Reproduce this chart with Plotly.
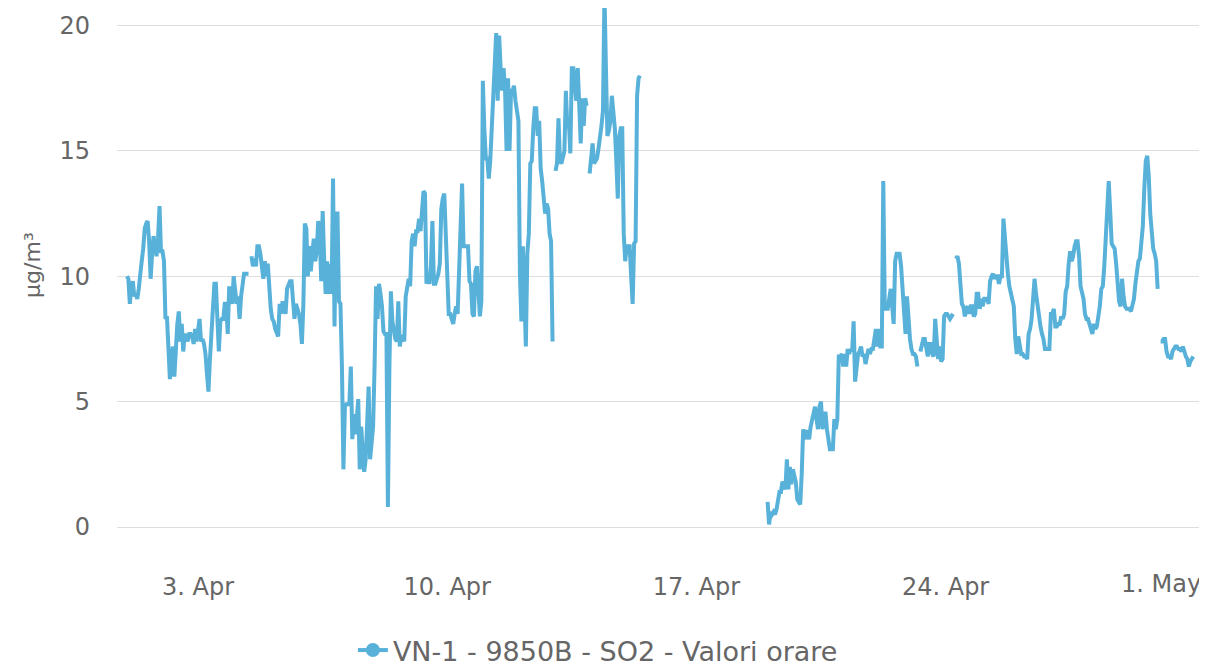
import pandas as pd
import plotly.graph_objects as go

# Hourly SO2 values (µg/m³), one list per day, 00:00 .. 23:00
apr01 = [10.0, 9.9, 8.9, 9.6, 9.8, 9.2, 9.3, 9.1, 9.5, 10.2, 10.6, 11.1, 11.9, 12.1, 12.2, 11.4, 9.9, 10.9, 11.6, 11.2, 10.8, 11.5, 12.8, 11.0]
apr02 = [11.0, 10.6, 8.3, 8.4, 6.7, 5.9, 6.7, 7.2, 6.0, 7.2, 8.1, 8.6, 7.4, 8.1, 7.0, 7.7, 7.6, 7.4, 7.7, 7.7, 7.6, 7.3, 7.9, 7.4]
apr03 = [7.8, 8.3, 7.4, 7.5, 7.3, 6.9, 6.1, 5.4, 6.7, 7.8, 8.6, 9.7, 9.7, 8.5, 7.0, 8.2, 8.3, 8.3, 8.9, 8.9, 7.7, 9.6, 9.2, 8.9]
apr04 = [10.0, 9.5, 8.9, 9.2, 8.3, 9.2, 9.8, 10.1, 10.1, 10.1, 10.1, None, 10.8, 10.4, 10.7, 10.4, 11.2, 11.2, 10.9, 10.4, 9.9, 10.6, 10.0, 10.5]
apr05 = [9.2, 8.7, 8.3, 8.2, 7.9, 7.7, 7.6, 8.9, 8.5, 9.0, 8.7, 8.5, 9.5, 9.7, 9.8, 9.8, 8.7, 8.3, 8.9, 8.7, 8.5, 8.1, 7.3, 8.9]
apr06 = [12.1, 11.9, 10.0, 11.2, 10.2, 10.9, 11.5, 10.6, 11.0, 12.2, 11.8, 9.8, 12.6, 10.7, 9.3, 10.6, 9.3, 10.5, 9.3, 13.9, 8.0, 12.5, 12.5, 9.0]
apr07 = [8.9, 6.4, 2.3, 4.8, 4.9, 4.9, 4.9, 6.4, 3.5, 4.5, 3.7, 4.3, 5.1, 2.3, 4.0, 3.0, 2.2, 2.7, 4.5, 5.6, 2.7, 3.2, 4.0, 6.4]
apr08 = [9.6, 8.3, 9.7, 9.3, 8.8, 7.8, 7.7, 7.7, 0.8, 6.4, 9.4, 8.2, 7.7, 7.5, 7.4, 9.0, 7.2, 7.6, 7.6, 7.4, 9.2, 9.7, 9.9, 9.6]
apr09 = [11.4, 11.7, 11.2, 11.8, 11.8, 12.3, 11.8, 12.6, 13.4, 13.3, 9.7, 9.9, 9.7, 10.4, 12.2, 9.7, 9.7, 9.9, 10.1, 10.5, 12.7, 13.1, 13.3, 11.7]
apr10 = [9.5, 8.5, 8.5, 8.3, 8.1, 8.5, 8.8, 8.5, 10.4, 12.5, 13.7, 11.2, 11.2, 11.2, 11.2, 9.8, 9.7, 8.5, 8.4, 10.2, 10.4, 9.5, 8.4, 9.0]
apr11 = [17.8, 15.9, 14.7, 14.7, 13.9, 14.6, 16.0, 17.5, 18.5, 19.7, 17.0, 19.6, 18.3, 17.4, 18.3, 17.4, 15.0, 17.9, 15.0, 17.4, 17.4, 17.6, 17.0, 16.6]
apr12 = [16.2, 10.1, 8.2, 11.2, 9.3, 7.2, 10.9, 11.7, 14.5, 14.6, 15.9, 16.7, 16.7, 15.6, 16.2, 14.3, 13.8, 13.0, 12.5, 12.9, 12.7, 11.7, 11.4, 7.4]
apr13 = [None, 14.2, 14.5, 16.3, 14.6, 14.5, 14.8, 15.0, 17.4, 15.9, 16.2, 14.9, 18.3, 18.3, 17.6, 17.0, 18.3, 17.0, 15.3, 17.1, 16.0, 17.1, 16.8, None]
apr14 = [14.1, 15.0, 15.3, 14.5, 14.6, 14.7, 15.1, 15.5, 16.0, 16.6, 21.3, 18.3, 15.6, 15.8, 16.2, 17.2, 16.5, 15.9, 14.6, 13.1, 15.6, 15.9, 15.9, 11.7]
apr15 = [10.6, 11.2, 11.2, 11.2, 10.0, 8.9, 11.3, 11.4, 17.2, 17.9, 18.0] + [None] * 13
apr16 = [None] * 24
apr17 = [None] * 24
apr18 = [None] * 24
apr19 = [1.0, 0.1, 0.6, 0.5, 0.6, 0.5, 0.7, 1.0, 1.4, 1.4, 1.8, 1.7, 1.5, 2.7, 1.5, 2.4, 1.7, 2.3, 2.0, 1.8, 1.1, 1.0, 0.9, 2.1]
apr20 = [3.9, 3.5, 3.8, 3.8, 3.5, 4.0, 4.3, 4.6, 4.8, 4.3, 3.9, 4.8, 5.0, 3.9, 4.4, 4.6, 3.9, 3.5, 3.1, 3.1, 3.1, 4.3, 3.9, 4.3]
apr21 = [6.8, 6.8, 6.9, 6.4, 6.9, 6.4, 7.1, 6.9, 7.1, 7.0, 8.2, 5.8, 6.5, 6.9, 7.0, 7.2, 6.8, 6.9, 6.5, 6.8, 7.1, 6.9, 7.1, 7.1]
apr22 = [7.7, 7.9, 7.2, 7.9, 7.2, 7.2, 13.8, 8.7, 8.7, 8.7, 9.1, 9.5, 8.8, 8.1, 10.6, 10.9, 10.9, 10.9, 10.4, 9.3, 8.5, 7.7, 9.2, 8.0]
apr23 = [7.5, 7.1, 6.9, 6.9, 6.8, 6.4, None, 7.0, 7.2, 7.5, 7.5, 7.0, 6.8, 7.3, 7.3, 6.9, 6.8, 8.3, 7.1, 6.7, 7.2, 6.6, 6.7, 8.4]
apr24 = [8.5, 8.5, 8.4, 8.3, 8.4, 8.5, None, 10.7, 10.8, 10.5, 9.6, 8.9, 8.8, 8.4, 8.7, 8.8, 8.5, 8.8, 8.8, 8.4, 8.5, 9.3, 9.3, 8.7]
apr25 = [9.1, 8.8, 9.1, 9.1, 9.1, 8.9, 9.8, 10.0, 10.1, 9.9, 10.0, 10.0, 9.7, 10.0, 10.0, 12.3, 11.4, 10.5, 10.1, 9.6, 9.3, 8.9, 8.8, 7.5]
apr26 = [6.9, 7.6, 7.2, 6.9, 6.9, 6.8, 6.8, 6.7, 7.7, 7.9, 8.3, 9.1, 9.9, 9.3, 8.8, 8.3, 8.0, 7.7, 7.5, 7.1, 7.1, 7.1, 7.1, 8.5]
apr27 = [8.5, 8.7, 8.0, 8.0, 8.1, 8.1, 8.4, 8.3, 8.5, 9.4, 9.6, 10.5, 11.0, 10.6, 10.8, 11.2, 11.4, 11.4, 10.8, 9.6, 9.3, 9.1, 8.5, 8.3]
apr28 = [8.3, 8.0, 7.9, 7.7, 8.1, 7.9, 8.0, 8.4, 8.8, 9.5, 9.6, 10.4, 11.4, 12.6, 13.8, 12.6, 11.3, 11.2, 11.1, 10.5, 9.8, 9.0, 8.8, 9.9]
apr29 = [9.2, 8.8, 8.7, 8.7, 8.7, 8.6, 8.8, 9.1, 9.7, 10.3, 10.6, 10.7, 11.2, 12.0, 13.5, 14.6, 14.8, 14.0, 12.5, 11.8, 11.1, 10.9, 10.6, 9.5]
apr30 = [None, 7.4, 7.4, 7.5, 7.5, 7.0, 6.8, 6.8, 6.7, 7.0, 7.1, 7.2, 7.2, 7.1, 7.1, 7.0, 7.2, 6.9, 6.8, 6.7, 6.4, 6.6, 6.7, 6.8]

days = [apr01, apr02, apr03, apr04, apr05, apr06, apr07, apr08, apr09, apr10,
        apr11, apr12, apr13, apr14, apr15, apr16, apr17, apr18, apr19, apr20,
        apr21, apr22, apr23, apr24, apr25, apr26, apr27, apr28, apr29, apr30]

series_name = "VN-1 - 9850B - SO2 - Valori orare"
y_title = "µg/m³"
x_tick_dates = ["2023-04-03", "2023-04-10", "2023-04-17", "2023-04-24"]
x_tick_text = ["3. Apr", "10. Apr", "17. Apr", "24. Apr"]
last_tick_text = "1. May"
y_ticks = [0, 5, 10, 15, 20]

values = [v for d in days for v in d]
times = pd.date_range("2023-04-01 00:00", periods=len(values), freq="h")

LINE = "#58b1d9"
GRID = "#dedede"
TXT = "#666666"
FONT = "DejaVu Sans"

fig = go.Figure()
fig.add_trace(go.Scatter(
    x=times, y=values, mode="lines", connectgaps=False,
    line=dict(color=LINE, width=4), showlegend=False, name=series_name,
))
# legend entry (line + circle symbol)
fig.add_trace(go.Scatter(
    x=[None], y=[None], mode="lines+markers", name=series_name,
    line=dict(color=LINE, width=4), marker=dict(color=LINE, size=14),
    showlegend=True,
))

fig.update_layout(
    width=1199, height=667,
    margin=dict(l=109, r=2, t=0, b=134),
    paper_bgcolor="white", plot_bgcolor="white",
    font=dict(family=FONT, color=TXT),
    legend=dict(orientation="h", x=0.442, xanchor="center", y=-0.2383, yanchor="middle",
                font=dict(family=FONT, size=27, color=TXT), bgcolor="rgba(0,0,0,0)"),
    xaxis=dict(
        type="date", range=["2023-03-31 17:20", "2023-05-01 06:55"],
        tickmode="array", tickvals=x_tick_dates, ticktext=x_tick_text,
        showgrid=False, zeroline=False, ticks="",
        showline=True, linecolor=GRID, linewidth=1,
        tickfont=dict(family=FONT, size=24, color=TXT), ticklabelstandoff=38,
    ),
    yaxis=dict(
        range=[0, 20.70], tickmode="array", tickvals=y_ticks,
        showgrid=True, gridcolor=GRID, gridwidth=1, zeroline=False, ticks="",
        tickfont=dict(family=FONT, size=24, color=TXT), ticklabelstandoff=26,
    ),
    annotations=[
        dict(text=y_title, xref="paper", yref="paper", x=-0.0772, y=0.505,
             xanchor="center", yanchor="middle", textangle=-90, showarrow=False,
             font=dict(family=FONT, size=22, color=TXT)),
        dict(text=last_tick_text, xref="paper", yref="paper", x=1.0, y=-0.1107,
             xanchor="right", yanchor="middle", xshift=-2, showarrow=False,
             font=dict(family=FONT, size=24, color=TXT)),
    ],
)

fig.write_html("out.html")
